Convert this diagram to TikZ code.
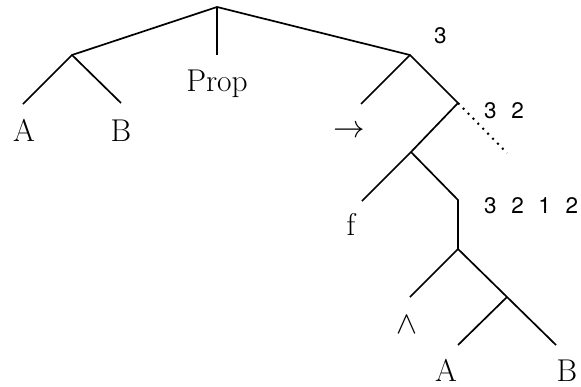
\documentclass[tikz,border=0pt]{standalone}
\usepackage{fontspec}
\newfontfamily\hv{TeX Gyre Heros}
\newcommand{\mynumfont}{\hv\fontsize{22.5}{27}\selectfont\spaceskip=0.65em plus 0pt minus 0pt\relax}
\begin{document}
\begin{tikzpicture}[x=1pt,y=-1pt,
  edge/.style={line width=1.7pt},
  dotedge/.style={line width=2pt, dash pattern=on 2pt off 5pt},
  lab/.style={font=\fontsize{31.5}{36}\selectfont, inner sep=0pt},
  sym/.style={font=\fontsize{24.88}{30}\selectfont, inner sep=0pt, scale=1.266},
  num/.style={font=\mynumfont, inner sep=0pt, anchor=base west}]
\useasboundingbox (0,0) rectangle (581,386);
% tree points
\coordinate (r) at (217,7);
\coordinate (l) at (72,55);
\coordinate (la) at (23,104);
\coordinate (lb) at (121,103);
\coordinate (p) at (217,55);
\coordinate (n1) at (410,55);
\coordinate (n1l) at (361,104);
\coordinate (n2) at (458,103);
\coordinate (dot) at (507,153);
\coordinate (n3) at (411,152);
\coordinate (n3l) at (362,201);
\coordinate (n4) at (458,200);
\coordinate (n5) at (458,249);
\coordinate (n5l) at (410,297);
\coordinate (n6) at (507,297);
\coordinate (n6l) at (458,345);
\coordinate (n6r) at (556,345);
% edges
\draw[edge] (la) -- (l) -- (lb);
\draw[edge] (l) -- (r) -- (n1);
\draw[edge] (r) -- (p);
\draw[edge] (n1l) -- (n1) -- (n2) -- (n3) -- (n3l);
\draw[edge] (n3) -- (n4) -- (n5) -- (n5l);
\draw[edge] (n5) -- (n6) -- (n6r);
\draw[edge] (n6) -- (n6l);
\draw[dotedge] (n2) -- (dot);
% labels
\node[lab, anchor=base] (tA1) at (24,141) {A};
\node[lab, anchor=base] (tB1) at (121,141) {B};
\node[lab, anchor=base] (tProp) at (217,91) {Prop};
\node[sym] (tarrow) at (349,132) {$\rightarrow$};
\node[lab, anchor=base] (tf) at (351,235) {f};
\node[sym] (twedge) at (407,325) {$\wedge$};
\node[lab, anchor=base] (tA2) at (446,381) {A};
\node[lab, anchor=base] (tB2) at (567,381) {B};
\node[num] (k1) at (434,43) {3};
\node[num] (k2) at (484,118) {3 2};
\node[num] (k3) at (484,213) {3 2 1 2};
\end{tikzpicture}
\end{document}
